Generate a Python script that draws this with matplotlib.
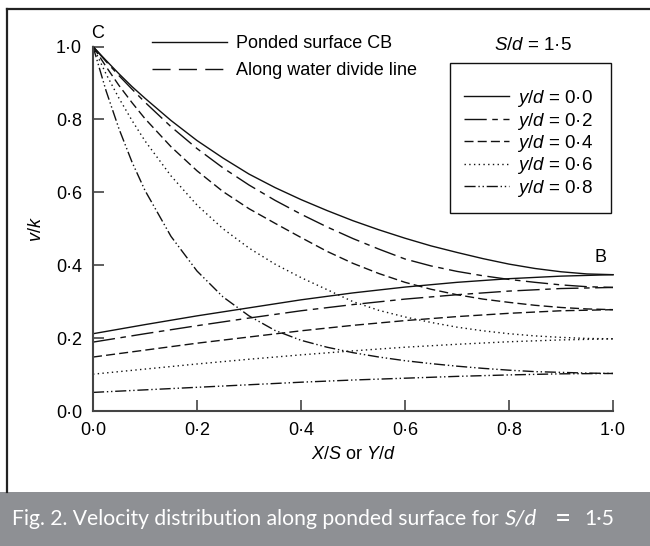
import matplotlib
matplotlib.use("Agg")
import matplotlib.pyplot as plt
from matplotlib.lines import Line2D
from matplotlib.patches import Rectangle

plt.rcParams['font.family'] = ['Liberation Sans', 'DejaVu Sans']
plt.rcParams['mathtext.fontset'] = 'custom'
plt.rcParams['mathtext.it'] = 'Liberation Sans:italic'
plt.rcParams['mathtext.rm'] = 'Liberation Sans'

# x positions along the ponded surface CB (X/S)
x_ponded = [0, 0.025, 0.05, 0.075, 0.1, 0.15, 0.2, 0.25, 0.3, 0.35, 0.4, 0.45,
            0.5, 0.55, 0.6, 0.65, 0.7, 0.75, 0.8, 0.85, 0.9, 0.95, 1.0]
# x positions along the water divide line (Y/d)
x_divide = [0, 0.1, 0.2, 0.3, 0.4, 0.5, 0.6, 0.7, 0.8, 0.9, 1.0]

yd_labels = ['0·0', '0·2', '0·4', '0·6', '0·8']

# v/k along ponded surface, one list per y/d
ponded_00 = [1.0, .962, .925, .89, .858, .797, .742, .694, .65, .613, .58, .55,
             .522, .497, .474, .453, .435, .418, .403, .391, .382, .376, .374]
ponded_02 = [1.0, .959, .92, .883, .847, .78, .72, .667, .62, .578, .54, .505,
             .473, .444, .417, .398, .383, .371, .361, .353, .346, .341, .339]
ponded_04 = [1.0, .945, .893, .846, .802, .725, .659, .602, .555, .515, .476, .438,
             .405, .377, .353, .334, .319, .307, .298, .29, .284, .28, .278]
ponded_06 = [1.0, .925, .858, .797, .741, .645, .565, .50, .447, .403, .366, .333,
             .30, .276, .258, .243, .23, .22, .212, .206, .202, .199, .198]
ponded_08 = [1.0, .879, .774, .683, .605, .479, .384, .313, .261, .221, .194, .175,
             .16, .148, .138, .13, .123, .117, .112, .108, .106, .104, .103]

# v/k along water divide line, one list per y/d
divide_00 = [.212, .237, .261, .283, .305, .324, .340, .353, .363, .370, .374]
divide_02 = [.189, .212, .234, .255, .275, .292, .307, .319, .329, .336, .339]
divide_04 = [.148, .167, .186, .203, .220, .235, .248, .259, .268, .275, .278]
divide_06 = [.101, .115, .129, .142, .154, .165, .175, .183, .190, .195, .198]
divide_08 = [.051, .058, .065, .072, .079, .085, .090, .095, .099, .102, .103]

ponded = [ponded_00, ponded_02, ponded_04, ponded_06, ponded_08]
divide = [divide_00, divide_02, divide_04, divide_06, divide_08]

styles = ['-', (0, (16, 4, 4, 4)), (0, (6.5, 3)), (0, (1, 2.4)),
          (0, (8, 2, 1, 2, 1, 2))]
ink = '#111111'

fig = plt.figure(figsize=(6.5, 5.46), dpi=100)
W, H = 650, 546
ax = fig.add_axes([93 / W, 1 - 411 / H, 520 / W, 364.5 / H])

for p, d, ls in zip(ponded, divide, styles):
    ax.plot(x_ponded, p, color=ink, lw=1.0, linestyle=ls, clip_on=False)
    ax.plot(x_divide, d, color=ink, lw=1.0, linestyle=ls, clip_on=False)

ax.set_xlim(0, 1)
ax.set_ylim(0, 1)
ticks = [0, 0.2, 0.4, 0.6, 0.8, 1.0]
tick_labels = [f"{t:.1f}".replace('.', '·') for t in ticks]
ax.set_xticks(ticks)
ax.set_xticklabels(tick_labels)
ax.set_yticks(ticks)
ax.set_yticklabels(tick_labels)
ax.tick_params(direction='in', length=8, width=1.2, color='#444444',
               labelsize=13, pad=8)
for side in ['top', 'right']:
    ax.spines[side].set_visible(False)
for side in ['left', 'bottom']:
    ax.spines[side].set_color('#444444')
    ax.spines[side].set_linewidth(1.5)

ax.set_xlabel(r'$X/S$ or $Y/d$', fontsize=13, labelpad=5)
ax.set_ylabel(r'$v/k$', fontsize=13, labelpad=8)

ax.text(0.008, 1.012, 'C', fontsize=13, ha='center', va='bottom')
ax.text(0.975, 0.42, 'B', fontsize=13, ha='center', va='center')

# top legend: ponded surface / divide line
top_handles = [Line2D([], [], color=ink, lw=1.0, linestyle='-'),
               Line2D([], [], color=ink, lw=1.0, linestyle=(0, (13, 6)))]
fig.legend(top_handles, ['Ponded surface CB', 'Along water divide line'],
           loc='upper left', bbox_to_anchor=(152 / W, 1 - 35 / H),
           frameon=False, fontsize=13, handlelength=4.15,
           handletextpad=0.5, labelspacing=0.55, borderpad=0,
           borderaxespad=0)

fig.text(494 / W, 1 - 45 / H, r'$S/d$ = 1·5', fontsize=13.5, va='center')

# y/d legend with square box
fig.patches.append(Rectangle((450 / W, 1 - 213 / H), 161 / W, 150 / H,
                             transform=fig.transFigure, fill=False,
                             edgecolor=ink, lw=1.0))
yd_handles = [Line2D([], [], color=ink, lw=1.0, linestyle=ls) for ls in styles]
fig.legend(yd_handles, [r'$y/d$ = ' + s for s in yd_labels],
           loc='upper left', bbox_to_anchor=(464 / W, 1 - 88 / H),
           frameon=False, fontsize=13.5, handlelength=2.4, handletextpad=0.45,
           labelspacing=0.08, borderpad=0, borderaxespad=0)

# page frame lines
fig.add_artist(Line2D([7 / W, 1], [1 - 9 / H, 1 - 9 / H], color='#222222',
                      lw=1.6, transform=fig.transFigure))
fig.add_artist(Line2D([7 / W, 7 / W], [1 - 9 / H, 54 / H], color='#222222',
                      lw=1.6, transform=fig.transFigure))

# caption band
fig.patches.append(Rectangle((0, 0), 1, 54 / H, transform=fig.transFigure,
                             facecolor='#8e9094', edgecolor='none'))
cap_y = 1 - 519 / H
cap_parts = [('Fig. 2. Velocity distribution along ponded surface for', 'normal', 15.2, 12),
             ('S/d', 'italic', 16, 505),
             ('=', 'normal', 20, 555),
             ('1·5', 'normal', 15.2, 584)]
for txt, style, size, px in cap_parts:
    fig.text(px / W, cap_y, txt, fontsize=size, family='Lato', style=style,
             color='white', va='center')

fig.savefig('out.png', dpi=100)
